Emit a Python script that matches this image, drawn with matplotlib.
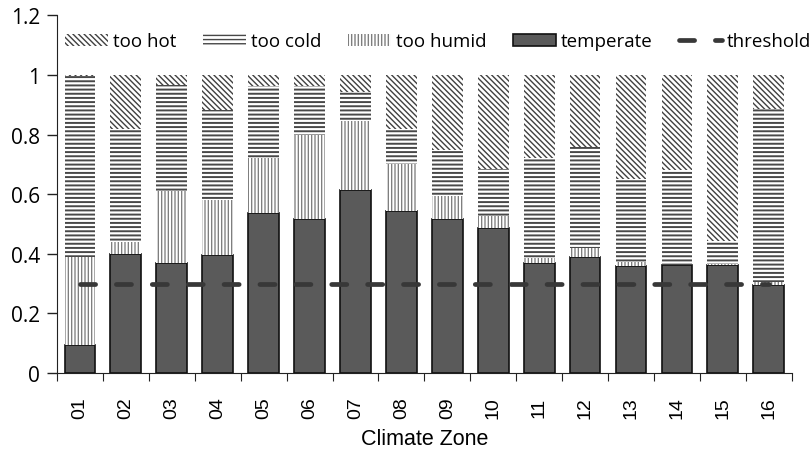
import numpy as np
import matplotlib
matplotlib.use('Agg')
import matplotlib.pyplot as plt
from matplotlib.patches import Patch
from matplotlib.lines import Line2D

plt.rcParams['font.family'] = ['Open Sans', 'DejaVu Sans']

zones = ['01', '02', '03', '04', '05', '06', '07', '08',
         '09', '10', '11', '12', '13', '14', '15', '16']
temperate = [0.095, 0.40, 0.37, 0.396, 0.538, 0.516, 0.613, 0.544,
             0.517, 0.486, 0.369, 0.388, 0.358, 0.362, 0.361, 0.296]
too_humid = [0.295, 0.04, 0.24, 0.184, 0.182, 0.284, 0.233, 0.156,
             0.078, 0.04, 0.016, 0.03, 0.015, 0.0, 0.005, 0.008]
too_cold = [0.605, 0.38, 0.357, 0.303, 0.242, 0.164, 0.096, 0.12,
            0.153, 0.159, 0.335, 0.339, 0.278, 0.319, 0.078, 0.582]
too_hot = [0.005, 0.18, 0.033, 0.117, 0.038, 0.036, 0.058, 0.18,
           0.252, 0.315, 0.28, 0.243, 0.349, 0.319, 0.556, 0.114]
threshold = [0.3] * len(zones)

x = np.arange(len(zones))
w = 0.67
dark = '#5a5a5a'
hot_style = dict(facecolor='white', edgecolor='#404040', linewidth=0, hatch='\\' * 6)
cold_style = dict(facecolor='white', edgecolor='#484848', linewidth=0, hatch='-' * 4)
humid_style = dict(facecolor='white', edgecolor='#7f7f7f', linewidth=0, hatch='|' * 5)
hatch_lw = {'hot': 1.0, 'cold': 1.4, 'humid': 0.95}
temp_style = dict(facecolor=dark, edgecolor='#111111', linewidth=1.2)
thr_style = dict(color='#383838', linewidth=3.4, dashes=(3.2, 4.4),
                 dash_capstyle='round')


def hatched(make, key):
    # hatch line width is per patch, so set it while the patches are made
    with plt.rc_context({'hatch.linewidth': hatch_lw[key]}):
        art = make()
    items = art.patches if hasattr(art, 'patches') else [art]
    for p in items:
        if hasattr(p, 'set_hatch_linewidth'):
            p.set_hatch_linewidth(hatch_lw[key])
    return art


fig = plt.figure(figsize=(8.12, 4.52), dpi=100)
ax = fig.add_axes([0.0702, 0.1726, 0.9048, 0.7911])

b1 = np.array(temperate)
b2 = b1 + np.array(too_humid)
b3 = b2 + np.array(too_cold)

ax.bar(x, temperate, w, zorder=2, **temp_style)
hatched(lambda: ax.bar(x, too_humid, w, bottom=b1, zorder=2, **humid_style), 'humid')
hatched(lambda: ax.bar(x, too_cold, w, bottom=b2, zorder=2, **cold_style), 'cold')
hatched(lambda: ax.bar(x, too_hot, w, bottom=b3, zorder=2, **hot_style), 'hot')

ax.plot(x, threshold, zorder=3, **thr_style)

ax.set_xlim(-0.5, len(zones) - 0.5)
ax.set_ylim(0, 1.2)
ax.set_yticks([0, 0.2, 0.4, 0.6, 0.8, 1.0, 1.2])
ax.set_yticklabels(['0', '0.2', '0.4', '0.6', '0.8', '1', '1.2'], fontsize=15)
ax.set_xticks(np.arange(-0.5, len(zones), 1))
ax.set_xticklabels([])
ax.set_xticks(x, minor=True)
ax.set_xticklabels(zones, minor=True, rotation=90, fontsize=14,
                   family='Liberation Sans')
ax.tick_params(axis='x', which='major', length=6, direction='out', color='#222222')
ax.tick_params(axis='x', which='minor', length=0, pad=17)
ax.tick_params(axis='y', length=7, width=1, direction='out', color='#222222', pad=5)
for s in ['top', 'right']:
    ax.spines[s].set_visible(False)
for s in ['left', 'bottom']:
    ax.spines[s].set_color('#222222')
ax.set_xlabel('Climate Zone', fontsize=15.5, family='Liberation Sans', labelpad=7)

handles = [
    hatched(lambda: Patch(**hot_style), 'hot'),
    hatched(lambda: Patch(**cold_style), 'cold'),
    hatched(lambda: Patch(**humid_style), 'humid'),
    Patch(**temp_style),
    Line2D([], [], **thr_style),
]
labels = ['too hot', 'too cold', 'too humid', 'temperate', 'threshold']
fig.legend(handles, labels, loc='center left', bbox_to_anchor=(0.08, 0.906),
           ncol=5, frameon=False, fontsize=13.5, handlelength=2.3,
           handleheight=0.64, handletextpad=0.27, columnspacing=1.4,
           borderpad=0, borderaxespad=0)

fig.savefig('out.png', dpi=100)
